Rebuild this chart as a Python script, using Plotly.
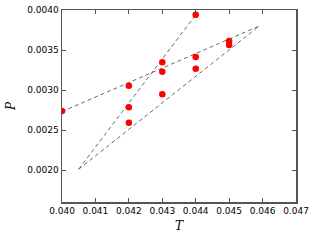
import plotly.graph_objects as go

# Measured points
pts_T = [0.040, 0.042, 0.042, 0.042, 0.043, 0.043, 0.043, 0.044, 0.044, 0.044, 0.045, 0.045]
pts_P = [0.002738, 0.003054, 0.002784, 0.002592, 0.003346, 0.003229, 0.002946,
         0.003942, 0.003412, 0.003267, 0.003612, 0.003562]

# Dashed fit lines (endpoints)
line1_T = [0.0400, 0.0459]
line1_P = [0.00273, 0.00380]
line2_T = [0.0405, 0.0459]
line2_P = [0.00201, 0.00380]
line3_T = [0.0405, 0.0440]
line3_P = [0.00201, 0.00394]

x_ticks = [0.040, 0.041, 0.042, 0.043, 0.044, 0.045, 0.046, 0.047]
y_ticks = [0.0020, 0.0025, 0.0030, 0.0035, 0.0040]

fig = go.Figure()
for lt, lp in [(line1_T, line1_P), (line2_T, line2_P), (line3_T, line3_P)]:
    fig.add_trace(go.Scatter(x=lt, y=lp, mode="lines",
                             line=dict(color="#444444", width=0.8, dash="4px,3px"),
                             showlegend=False, hoverinfo="skip"))
fig.add_trace(go.Scatter(x=pts_T, y=pts_P, mode="markers",
                         marker=dict(color="#ff0000", size=6.5, line=dict(width=0)),
                         showlegend=False))

axis_common = dict(showgrid=False, zeroline=False, showline=True, linecolor="#555555",
                   linewidth=1.5, mirror="ticks", ticks="inside", ticklen=4,
                   tickcolor="#555555", tickwidth=1, automargin=False,
                   tickfont=dict(family="DejaVu Sans", size=9, color="black"))

fig.update_xaxes(range=[0.040, 0.047], tickvals=x_ticks,
                 ticktext=[f"{v:.3f}" for v in x_ticks], tickangle=0,
                 **axis_common)
fig.update_yaxes(range=[0.0016, 0.0040], tickvals=y_ticks,
                 ticktext=[f"{v:.4f}" for v in y_ticks],
                 **axis_common)

fig.add_annotation(text="<i>T</i>", xref="paper", yref="paper", x=0.5, y=-0.125,
                   yanchor="middle", showarrow=False,
                   font=dict(family="DejaVu Serif", size=12, color="black"))
fig.add_annotation(text="<i>P</i>", xref="paper", yref="paper", x=-0.218, y=0.5,
                   xanchor="center", showarrow=False, textangle=-90,
                   font=dict(family="DejaVu Serif", size=12, color="black"))

fig.update_layout(width=316, height=240, margin=dict(l=62, r=20, t=10, b=38),
                  plot_bgcolor="white", paper_bgcolor="white")

# remove the default 8px page margin so the figure fills the window exactly
fig.write_html("out.html",
               config={"displayModeBar": False, "staticPlot": True},
               post_script="document.body.style.margin='0';document.body.style.overflow='hidden';")
